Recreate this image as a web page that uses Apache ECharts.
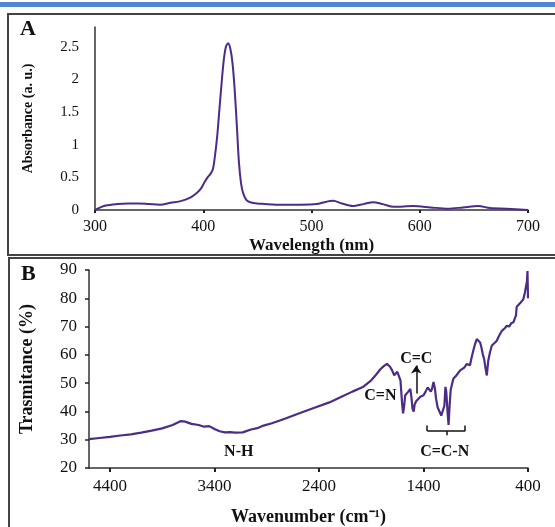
<!DOCTYPE html>
<html>
<head>
<meta charset="utf-8">
<script src="https://cdn.jsdelivr.net/npm/echarts@6/dist/echarts.min.js"></script>
<style>
  html, body { margin: 0; padding: 0; background: #fff; }
  #chart { width: 555px; height: 527px; }
</style>
</head>
<body>
<div id="chart"></div>
<script>
// Panel A: UV-Vis absorption spectrum
const uvWavelength = [300, 305, 310, 320, 330, 340, 350, 360, 370, 380, 388, 394, 398, 401, 404, 407, 409, 411, 413, 415, 417, 419, 421, 423, 425, 427, 429, 431, 433, 435, 437, 440, 445, 450, 470, 490, 505, 512, 520, 528, 538, 548, 557, 566, 576, 594, 610, 626, 640, 654, 665, 680, 700];
const uvAbsorbance = [0, 0.04, 0.07, 0.09, 0.1, 0.1, 0.09, 0.08, 0.11, 0.14, 0.19, 0.26, 0.33, 0.42, 0.5, 0.56, 0.63, 0.85, 1.15, 1.55, 1.95, 2.3, 2.5, 2.55, 2.47, 2.25, 1.85, 1.3, 0.72, 0.4, 0.25, 0.15, 0.11, 0.1, 0.08, 0.08, 0.09, 0.12, 0.14, 0.1, 0.06, 0.09, 0.12, 0.09, 0.05, 0.06, 0.04, 0.02, 0.04, 0.06, 0.03, 0.02, 0.0];

// Panel B: FT-IR spectrum
const irWavenumber = [4600, 4500, 4400, 4300, 4200, 4100, 4000, 3900, 3800, 3720, 3680, 3620, 3550, 3500, 3450, 3400, 3350, 3300, 3250, 3200, 3130, 3050, 2980, 2930, 2850, 2720, 2600, 2450, 2300, 2200, 2080, 1980, 1900, 1860, 1810, 1780, 1750, 1720, 1700, 1680, 1665, 1650, 1635, 1620, 1605, 1595, 1585, 1575, 1560, 1545, 1526, 1515, 1505, 1494, 1484, 1470, 1455, 1430, 1415, 1399, 1380, 1360, 1345, 1330, 1318, 1304, 1290, 1280, 1265, 1246, 1230, 1214, 1200, 1190, 1182, 1170, 1160, 1150, 1140, 1125, 1113, 1090, 1070, 1049, 1030, 1010, 985, 970, 955, 940, 920, 906, 890, 875, 858, 845, 830, 820, 805, 794, 780, 763, 746, 720, 699, 680, 650, 620, 603, 580, 560, 540, 524, 515, 508, 490, 470, 460, 445, 430, 420, 410, 405, 402, 400];
const irTransmittance = [30.2, 30.6, 31.0, 31.5, 31.9, 32.5, 33.2, 34.0, 35.2, 36.6, 36.4, 35.6, 35.2, 34.6, 34.8, 33.8, 33.0, 32.6, 32.7, 32.5, 32.6, 33.6, 34.2, 35.0, 35.8, 37.5, 39.2, 41.2, 43.2, 44.9, 47.0, 48.6, 51.0, 52.7, 55.0, 56.0, 56.8, 55.8, 54.5, 52.8, 52.5, 54.0, 54.3, 51.0, 43.0, 39.3, 42.0, 45.7, 45.0, 47.0, 48.0, 45.0, 41.0, 39.9, 42.5, 43.6, 44.0, 45.2, 44.6, 45.7, 47.0, 48.5, 48.0, 47.0, 48.0, 50.4, 48.0, 44.6, 41.5, 39.9, 38.5, 38.1, 42.0, 48.7, 47.0, 40.0, 35.2, 42.0, 47.5, 50.0, 51.6, 52.5, 53.5, 54.5, 54.0, 55.5, 56.8, 56.5, 56.3, 59.0, 62.0, 63.9, 65.6, 65.0, 64.4, 62.5, 59.8, 58.6, 55.0, 52.7, 58.0, 61.0, 63.3, 64.2, 65.0, 66.5, 68.5, 69.5, 70.3, 70.0, 71.2, 71.5, 72.0, 74.0, 77.0, 76.5, 78.5, 79.0, 79.6, 82.0, 84.0, 86.0, 89.6, 89.5, 80.0];
const irTicks = [4400, 3400, 2400, 1400, 400];

// Band assignments: [label, wavenumber, transmittance]
const irBands = [
  ['N-H', 3167, 25.6],
  ['C=N', 1812, 45.6],
  ['C=C', 1469, 58.6],
  ['C=C-N', 1197, 25.8]
];

const lineColor = '#4b2c87';
const inkColor = '#111';
const serif = '"Liberation Serif", "Times New Roman", serif';

const chart = echarts.init(document.getElementById('chart'), null, { renderer: 'canvas' });

const pairs = (xs, ys) => xs.map((x, i) => [x, ys[i]]);

const axisLine = { show: true, lineStyle: { color: '#333', width: 1.5 } };

const option = {
  animation: false,
  backgroundColor: '#fff',
  grid: [
    { left: 95, right: 27, top: 27, bottom: 317 },
    { left: 89, right: 27, top: 270, bottom: 57 }
  ],
  xAxis: [
    {
      gridIndex: 0, type: 'value', min: 300, max: 700, interval: 100,
      name: 'Wavelength (nm)', nameLocation: 'middle', nameGap: 27,
      nameTextStyle: { fontFamily: serif, fontWeight: 'bold', fontSize: 17, color: inkColor },
      axisLine: axisLine,
      axisTick: { show: true, length: 3, lineStyle: { color: '#222', width: 2 } },
      axisLabel: { fontFamily: serif, fontSize: 16, color: inkColor, margin: 9 },
      splitLine: { show: false }
    },
    {
      gridIndex: 1, type: 'value', min: 400, max: 4600, inverse: true,
      name: 'Wavenumber (cm⁻¹)', nameLocation: 'middle', nameGap: 40,
      nameTextStyle: { fontFamily: serif, fontWeight: 'bold', fontSize: 18, color: inkColor },
      axisLine: axisLine,
      axisTick: { show: true, length: 4, customValues: irTicks, lineStyle: { color: '#222', width: 2 } },
      axisLabel: {
        fontFamily: serif, fontSize: 17, color: inkColor, margin: 10,
        customValues: irTicks, formatter: v => String(v)
      },
      splitLine: { show: false }
    }
  ],
  yAxis: [
    {
      gridIndex: 0, type: 'value', min: 0, max: 2.8, interval: 0.5,
      name: 'Absorbance (a. u.)', nameLocation: 'middle', nameGap: 60,
      nameTextStyle: { fontFamily: serif, fontWeight: 'bold', fontSize: 14, color: inkColor },
      axisLine: axisLine,
      axisTick: { show: false },
      axisLabel: { fontFamily: serif, fontSize: 15, color: inkColor, margin: 16, showMaxLabel: false },
      splitLine: { show: false }
    },
    {
      gridIndex: 1, type: 'value', min: 20, max: 90, interval: 10,
      name: 'Trasmitance (%)', nameLocation: 'middle', nameGap: 53,
      nameTextStyle: { fontFamily: serif, fontWeight: 'bold', fontSize: 18, color: inkColor },
      axisLine: axisLine,
      axisTick: { show: true, length: 4, lineStyle: { color: '#222', width: 1.5 } },
      axisLabel: { fontFamily: serif, fontSize: 17, color: inkColor, margin: 12 },
      splitLine: { show: false }
    }
  ],
  series: [
    {
      name: 'Absorbance', type: 'line', xAxisIndex: 0, yAxisIndex: 0,
      data: pairs(uvWavelength, uvAbsorbance), smooth: 0.3, showSymbol: false,
      lineStyle: { color: lineColor, width: 2 }
    },
    {
      name: 'Transmittance', type: 'line', xAxisIndex: 1, yAxisIndex: 1,
      data: pairs(irWavenumber, irTransmittance), showSymbol: false,
      lineStyle: { color: lineColor, width: 2.2 },
      markPoint: {
        symbol: 'circle', symbolSize: 0, silent: true,
        label: {
          show: true, formatter: '{b}', position: 'inside',
          fontFamily: serif, fontWeight: 'bold', fontSize: 16, color: inkColor
        },
        data: irBands.map(b => ({ name: b[0], coord: [b[1], b[2]] }))
      },
      markLine: {
        silent: true, symbol: ['none', 'none'],
        label: { show: false },
        lineStyle: { color: '#111', width: 1.5, type: 'solid' },
        data: [
          [{ coord: [1469, 46.3] }, { coord: [1469, 56.2], symbol: 'arrow', symbolSize: 8 }],
          [{ coord: [1364, 33.1] }, { coord: [1001, 33.1] }],
          [{ coord: [1364, 33.1] }, { coord: [1364, 35.0] }],
          [{ coord: [1001, 33.1] }, { coord: [1001, 35.0] }],
          [{ coord: [1182, 33.1] }, { coord: [1182, 31.6] }]
        ]
      }
    }
  ],
  graphic: [
    // header rule
    { type: 'rect', shape: { x: 0, y: 2, width: 555, height: 5 }, style: { fill: '#4f86cf' } },
    // panel frames
    { type: 'rect', shape: { x: 8, y: 14, width: 560, height: 241 }, style: { fill: 'none', stroke: '#444', lineWidth: 2 } },
    { type: 'rect', shape: { x: 9, y: 258, width: 560, height: 290 }, style: { fill: 'none', stroke: '#444', lineWidth: 2 } },
    // panel letters
    { type: 'text', left: 20, top: 18, style: { text: 'A', font: 'bold 22px ' + serif, fill: inkColor } },
    { type: 'text', left: 21, top: 263, style: { text: 'B', font: 'bold 22px ' + serif, fill: inkColor } }
  ]
};

chart.setOption(option);
</script>
</body>
</html>
